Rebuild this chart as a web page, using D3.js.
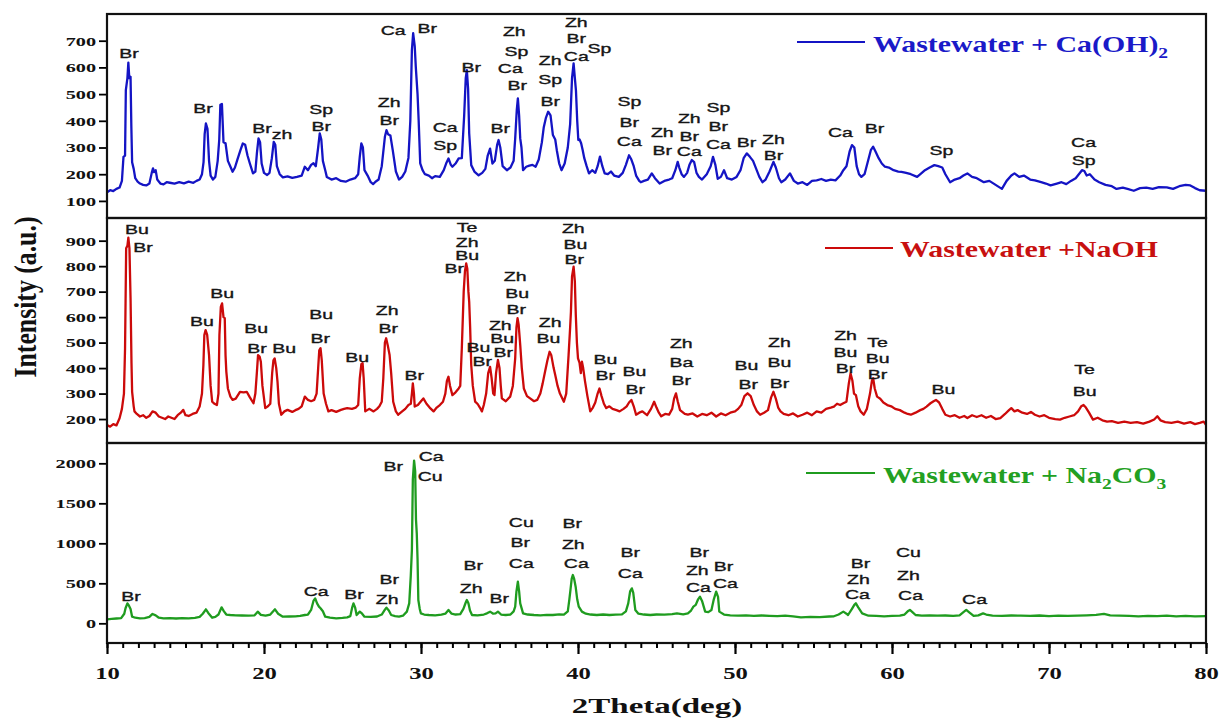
<!DOCTYPE html>
<html><head><meta charset="utf-8">
<script src="https://cdn.jsdelivr.net/npm/d3@7"></script>
<style>body{margin:0;background:#fff}svg{display:block}</style>
</head><body><svg id="c" width="1219" height="720"></svg>
<script>
// ---------------- DATA ----------------
const thetaTicks=[10,20,30,40,50,60,70,80];
const caohTicks=[100,200,300,400,500,600,700];
const naohTicks=[200,300,400,500,600,700,800,900];
const na2co3Ticks=[0,500,1000,1500,2000];
const seriesNames=["Wastewater + Ca(OH)","Wastewater +NaOH","Wastewater + Na"];

const caohPattern=[[10.0,132],[10.2,140],[10.4,137],[10.6,145],[10.8,150],[10.95,175],[11.05,265],[11.15,270],[11.2,515],[11.3,560],[11.36,618],[11.42,560],[11.5,565],[11.55,380],[11.6,245],[11.7,220],[11.8,185],[11.95,172],[12.1,165],[12.3,160],[12.5,158],[12.7,165],[12.85,205],[12.93,222],[13.0,208],[13.1,215],[13.2,180],[13.4,165],[13.6,162],[13.8,170],[14.0,168],[14.3,165],[14.6,170],[14.9,166],[15.2,172],[15.5,168],[15.7,175],[15.9,180],[16.05,200],[16.15,245],[16.22,350],[16.3,390],[16.4,370],[16.5,250],[16.6,195],[16.75,180],[16.9,190],[17.05,250],[17.15,330],[17.22,460],[17.32,463],[17.42,320],[17.55,316],[17.7,250],[17.85,230],[18.0,209],[18.15,225],[18.3,254],[18.5,290],[18.65,315],[18.8,310],[18.95,270],[19.1,240],[19.3,203],[19.45,210],[19.55,280],[19.65,334],[19.75,320],[19.85,240],[20.0,205],[20.2,197],[20.35,205],[20.5,260],[20.62,321],[20.72,310],[20.82,230],[21.0,200],[21.2,188],[21.5,192],[21.8,186],[22.1,190],[22.4,195],[22.6,228],[22.8,215],[23.0,235],[23.15,241],[23.3,230],[23.45,300],[23.55,353],[23.65,330],[23.75,250],[23.9,215],[24.0,190],[24.3,180],[24.6,185],[24.9,175],[25.2,172],[25.5,180],[25.8,185],[26.0,200],[26.1,265],[26.2,315],[26.3,300],[26.4,215],[26.6,195],[26.8,170],[26.95,163],[27.1,172],[27.3,180],[27.5,230],[27.7,340],[27.8,365],[27.9,350],[28.05,345],[28.2,290],[28.4,210],[28.6,180],[28.8,190],[29.0,210],[29.2,261],[29.32,400],[29.42,665],[29.5,728],[29.6,680],[29.67,600],[29.78,500],[29.85,403],[29.95,241],[30.1,215],[30.25,200],[30.5,195],[30.7,185],[30.9,193],[31.2,190],[31.45,215],[31.6,240],[31.75,259],[31.9,235],[32.0,228],[32.2,240],[32.4,259],[32.6,260],[32.75,420],[32.85,560],[32.92,590],[33.0,520],[33.07,353],[33.2,234],[33.4,210],[33.67,196],[33.9,205],[34.1,220],[34.25,270],[34.4,296],[34.55,240],[34.7,250],[34.85,310],[34.94,328],[35.05,300],[35.2,230],[35.47,215],[35.7,225],[35.9,250],[36.0,334],[36.1,440],[36.17,484],[36.25,420],[36.32,334],[36.4,300],[36.5,215],[36.7,228],[36.9,232],[37.1,235],[37.3,228],[37.5,255],[37.7,320],[37.82,376],[37.95,410],[38.1,434],[38.25,420],[38.4,347],[38.55,330],[38.65,290],[38.8,241],[38.95,215],[39.15,240],[39.35,300],[39.5,388],[39.62,560],[39.72,615],[39.8,560],[39.87,513],[39.95,400],[40.02,328],[40.1,330],[40.2,316],[40.3,290],[40.4,260],[40.55,230],[40.7,203],[40.9,215],[41.1,205],[41.25,230],[41.4,266],[41.55,230],[41.7,203],[41.9,200],[42.1,210],[42.3,195],[42.6,190],[42.85,205],[43.05,235],[43.25,271],[43.4,255],[43.55,230],[43.7,195],[43.9,175],[44.0,170],[44.2,175],[44.45,180],[44.7,203],[44.9,185],[45.2,165],[45.5,175],[45.8,180],[46.0,185],[46.2,215],[46.35,246],[46.45,225],[46.6,200],[46.75,190],[46.95,205],[47.1,235],[47.25,253],[47.4,245],[47.55,205],[47.7,190],[47.9,180],[48.2,200],[48.45,230],[48.6,265],[48.75,235],[48.9,183],[49.1,190],[49.3,215],[49.5,185],[49.8,180],[50.1,190],[50.35,215],[50.55,260],[50.75,278],[50.95,265],[51.15,250],[51.35,220],[51.55,190],[51.75,170],[51.95,180],[52.2,210],[52.45,246],[52.6,225],[52.8,185],[52.95,170],[53.2,180],[53.5,203],[53.75,175],[54.0,165],[54.3,170],[54.6,160],[54.9,175],[55.2,177],[55.5,182],[55.8,175],[56.1,180],[56.4,177],[56.7,195],[56.9,215],[57.1,230],[57.3,285],[57.45,309],[57.6,300],[57.75,230],[57.9,200],[58.05,190],[58.25,200],[58.45,245],[58.65,290],[58.8,303],[58.95,285],[59.15,260],[59.35,240],[59.55,228],[59.8,225],[60.1,215],[60.4,210],[60.6,209],[60.9,205],[61.2,200],[61.6,190],[61.9,205],[62.1,215],[62.4,225],[62.7,234],[62.95,230],[63.2,225],[63.4,200],[63.7,170],[64.0,180],[64.3,185],[64.55,195],[64.8,203],[65.1,190],[65.4,185],[65.85,170],[66.2,175],[66.6,160],[67.0,145],[67.3,175],[67.6,195],[67.8,203],[68.1,190],[68.4,195],[68.8,180],[69.1,177],[69.5,170],[69.8,165],[70.1,158],[70.5,165],[70.8,170],[71.1,163],[71.4,175],[71.7,185],[71.9,200],[72.1,215],[72.25,212],[72.4,195],[72.6,200],[72.9,180],[73.2,170],[73.6,160],[74.0,155],[74.3,145],[74.7,150],[75.0,145],[75.4,138],[75.8,148],[76.2,150],[76.6,145],[77.0,152],[77.5,151],[77.9,145],[78.3,155],[78.7,160],[79.0,158],[79.3,148],[79.6,140],[80.0,138]];

const naohPattern=[[10.0,177],[10.2,170],[10.4,180],[10.6,175],[10.8,203],[10.95,240],[11.08,300],[11.15,478],[11.22,870],[11.3,880],[11.36,912],[11.43,870],[11.5,674],[11.56,420],[11.6,307],[11.7,250],[11.75,230],[11.9,220],[12.1,210],[12.3,215],[12.5,205],[12.7,212],[12.9,230],[13.1,225],[13.3,210],[13.5,205],[13.7,200],[13.9,210],[14.1,205],[14.3,200],[14.5,215],[14.7,225],[14.86,236],[15.0,215],[15.2,212],[15.45,220],[15.7,225],[15.9,249],[16.05,300],[16.14,412],[16.2,530],[16.28,549],[16.38,530],[16.5,451],[16.6,330],[16.7,268],[16.85,260],[17.0,255],[17.1,300],[17.16,530],[17.25,640],[17.33,654],[17.42,600],[17.5,596],[17.55,450],[17.6,386],[17.7,320],[17.86,288],[18.0,275],[18.2,280],[18.47,307],[18.7,305],[18.9,307],[19.1,285],[19.33,262],[19.45,300],[19.55,386],[19.62,451],[19.72,445],[19.8,425],[19.9,330],[20.08,243],[20.25,250],[20.4,260],[20.52,380],[20.6,430],[20.68,438],[20.78,400],[20.86,347],[20.95,260],[21.1,217],[21.3,230],[21.5,236],[21.8,228],[22.0,235],[22.2,240],[22.4,250],[22.6,288],[22.8,275],[23.0,270],[23.2,275],[23.35,300],[23.45,400],[23.52,470],[23.6,478],[23.68,430],[23.8,300],[23.95,260],[24.1,230],[24.3,235],[24.6,228],[24.9,236],[25.1,240],[25.3,243],[25.6,240],[25.85,245],[26.0,255],[26.1,360],[26.2,415],[26.28,419],[26.35,360],[26.45,230],[26.7,240],[26.98,230],[27.2,240],[27.35,250],[27.5,268],[27.6,360],[27.7,500],[27.78,517],[27.88,490],[28.0,451],[28.1,380],[28.23,268],[28.4,230],[28.55,217],[28.8,230],[29.0,240],[29.2,255],[29.35,260],[29.42,300],[29.48,340],[29.55,300],[29.6,249],[29.8,255],[30.0,270],[30.15,281],[30.35,260],[30.55,245],[30.8,230],[31.0,245],[31.2,255],[31.4,268],[31.55,300],[31.65,350],[31.75,366],[31.85,330],[32.0,294],[32.2,305],[32.4,320],[32.5,330],[32.6,478],[32.72,700],[32.8,780],[32.88,811],[32.95,790],[33.02,700],[33.07,660],[33.13,560],[33.2,412],[33.3,330],[33.45,268],[33.6,260],[33.75,245],[33.88,230],[34.0,255],[34.15,300],[34.28,380],[34.4,405],[34.5,360],[34.6,300],[34.68,294],[34.78,380],[34.9,432],[35.0,400],[35.08,330],[35.15,281],[35.4,270],[35.68,288],[35.85,330],[36.0,438],[36.08,560],[36.15,596],[36.22,570],[36.32,491],[36.42,400],[36.55,320],[36.75,290],[36.95,281],[37.2,270],[37.4,275],[37.6,300],[37.75,340],[37.9,386],[38.05,430],[38.19,464],[38.3,450],[38.45,400],[38.55,373],[38.7,330],[38.85,300],[39.1,268],[39.25,300],[39.4,451],[39.5,560],[39.55,621],[39.62,760],[39.72,798],[39.8,740],[39.86,608],[39.93,500],[40.0,438],[40.1,420],[40.18,380],[40.25,425],[40.33,400],[40.45,347],[40.6,290],[40.78,230],[40.95,245],[41.1,265],[41.25,300],[41.37,320],[41.5,290],[41.65,260],[41.8,243],[42.0,250],[42.2,240],[42.45,235],[42.65,230],[42.9,240],[43.1,250],[43.25,265],[43.4,275],[43.55,250],[43.7,217],[43.9,225],[44.1,230],[44.4,215],[44.65,240],[44.85,268],[45.0,245],[45.15,225],[45.3,211],[45.55,220],[45.8,217],[46.0,240],[46.12,280],[46.24,301],[46.35,270],[46.5,235],[46.6,230],[46.8,220],[47.0,217],[47.3,222],[47.6,210],[47.9,220],[48.2,215],[48.5,225],[48.8,210],[49.1,222],[49.4,215],[49.7,225],[50.0,230],[50.2,240],[50.4,255],[50.6,290],[50.8,301],[51.0,290],[51.2,255],[51.4,230],[51.6,217],[51.85,225],[52.1,235],[52.3,285],[52.45,307],[52.6,280],[52.75,245],[52.9,230],[53.1,220],[53.4,215],[53.7,222],[54.0,210],[54.3,217],[54.6,225],[54.9,215],[55.2,230],[55.5,225],[55.8,240],[56.1,245],[56.3,249],[56.5,260],[56.7,255],[56.9,262],[57.1,268],[57.25,340],[57.36,379],[57.48,350],[57.58,300],[57.7,294],[57.85,250],[58.0,230],[58.2,217],[58.4,240],[58.6,300],[58.72,350],[58.8,360],[58.9,320],[59.05,288],[59.25,280],[59.45,265],[59.7,255],[59.95,250],[60.2,240],[60.5,235],[60.8,225],[61.0,220],[61.2,217],[61.5,225],[61.8,235],[62.0,240],[62.2,249],[62.45,262],[62.65,270],[62.8,275],[63.0,265],[63.2,240],[63.4,217],[63.7,210],[64.0,215],[64.3,205],[64.6,212],[64.8,204],[65.1,215],[65.4,208],[65.7,215],[66.0,205],[66.3,212],[66.6,200],[66.9,204],[67.2,220],[67.45,235],[67.6,243],[67.8,230],[68.0,235],[68.3,225],[68.6,220],[68.85,228],[69.1,217],[69.4,210],[69.7,215],[70.0,205],[70.4,200],[70.7,198],[71.0,205],[71.3,210],[71.6,215],[71.85,230],[72.05,250],[72.2,255],[72.35,245],[72.55,225],[72.8,198],[73.1,205],[73.4,195],[73.7,190],[74.0,192],[74.4,185],[74.8,190],[75.2,185],[75.6,188],[76.0,182],[76.4,190],[76.7,198],[76.9,211],[77.1,195],[77.4,188],[77.8,185],[78.2,190],[78.6,182],[79.0,188],[79.3,180],[79.6,185],[79.85,190],[80.0,177]];

const na2co3Pattern=[[10.0,50],[10.3,55],[10.6,60],[10.9,65],[11.1,120],[11.18,188],[11.3,250],[11.4,220],[11.5,180],[11.6,83],[11.8,70],[12.1,62],[12.4,65],[12.7,80],[12.9,117],[13.1,100],[13.3,70],[13.6,62],[14.0,65],[14.4,60],[14.8,66],[15.2,62],[15.6,68],[15.9,80],[16.1,120],[16.3,175],[16.45,130],[16.7,70],[16.9,80],[17.1,110],[17.3,200],[17.45,150],[17.6,110],[17.85,104],[18.2,100],[18.6,98],[19.0,95],[19.4,100],[19.6,146],[19.8,105],[20.1,95],[20.4,110],[20.7,175],[20.9,120],[21.2,83],[21.6,85],[22.0,88],[22.3,92],[22.6,104],[22.8,110],[23.0,167],[23.15,280],[23.26,312],[23.38,250],[23.5,208],[23.6,188],[23.75,150],[23.9,83],[24.2,70],[24.6,62],[25.0,68],[25.3,75],[25.5,90],[25.62,200],[25.7,250],[25.8,200],[25.9,104],[26.1,146],[26.25,120],[26.4,83],[26.8,80],[27.2,85],[27.5,110],[27.7,170],[27.8,196],[27.95,160],[28.1,104],[28.35,90],[28.6,83],[28.85,95],[29.1,146],[29.25,250],[29.35,600],[29.42,917],[29.48,1800],[29.56,2033],[29.63,1900],[29.68,1300],[29.73,1125],[29.78,800],[29.83,292],[29.92,180],[29.99,125],[30.2,110],[30.5,104],[30.9,100],[31.3,108],[31.55,120],[31.75,167],[31.95,120],[32.2,110],[32.5,115],[32.7,180],[32.85,260],[32.92,292],[33.02,250],[33.12,160],[33.25,104],[33.6,100],[34.0,110],[34.2,125],[34.4,146],[34.6,120],[34.75,125],[34.9,146],[35.1,110],[35.4,104],[35.7,110],[35.9,150],[36.0,208],[36.08,400],[36.17,521],[36.25,400],[36.32,250],[36.42,180],[36.5,125],[36.8,110],[37.2,104],[37.6,100],[38.0,106],[38.4,104],[38.8,112],[39.1,108],[39.35,150],[39.45,300],[39.52,417],[39.6,560],[39.67,604],[39.75,560],[39.85,458],[39.95,300],[40.05,208],[40.25,146],[40.5,120],[40.8,110],[41.2,104],[41.6,110],[42.0,104],[42.4,108],[42.8,112],[43.05,150],[43.2,250],[43.32,400],[43.43,437],[43.52,380],[43.65,167],[43.85,120],[44.2,110],[44.6,104],[45.0,110],[45.5,108],[46.0,115],[46.3,125],[46.7,112],[47.0,125],[47.2,160],[47.35,208],[47.5,230],[47.65,300],[47.77,333],[47.9,280],[48.1,146],[48.3,140],[48.5,167],[48.65,300],[48.8,396],[48.92,330],[49.0,146],[49.3,110],[49.7,100],[50.2,96],[50.7,100],[51.2,92],[51.7,98],[52.2,94],[52.7,90],[53.2,96],[53.7,88],[54.2,75],[54.8,80],[55.4,78],[56.0,85],[56.3,88],[56.6,110],[56.9,146],[57.1,120],[57.2,104],[57.45,180],[57.6,230],[57.7,250],[57.85,200],[58.1,125],[58.5,95],[59.0,92],[59.5,88],[60.0,92],[60.5,95],[60.8,110],[61.0,150],[61.14,167],[61.3,140],[61.5,104],[61.9,95],[62.4,100],[62.9,96],[63.4,98],[63.9,92],[64.3,100],[64.55,140],[64.73,167],[64.9,140],[65.2,92],[65.5,100],[65.8,125],[66.0,110],[66.4,95],[67.0,92],[67.6,98],[68.2,95],[68.8,92],[69.4,98],[70.0,90],[70.6,95],[71.2,92],[71.8,96],[72.4,100],[73.0,105],[73.5,117],[73.9,100],[74.5,95],[75.1,92],[75.7,88],[76.3,92],[76.9,90],[77.5,95],[78.1,88],[78.7,92],[79.3,88],[80.0,90]];

// phase labels: [2theta, intensity at text baseline, text]
const caohLabels=[[11.40,635,"Br"],[16.12,429,"Br"],[19.88,354,"Br"],[21.15,331,"zh"],[23.64,425,"Sp"],[23.64,361,"Br"],[27.97,451,"Zh"],[27.97,384,"Br"],[28.23,721,"Ca"],[30.40,729,"Br"],[31.54,358,"Ca"],[31.54,290,"Sp"],[33.20,583,"Br"],[35.05,354,"Br"],[35.94,718,"Zh"],[36.07,643,"Sp"],[35.69,579,"Ca"],[36.13,515,"Br"],[38.23,609,"Zh"],[38.23,538,"Sp"],[38.23,455,"Br"],[39.89,750,"Zh"],[39.89,691,"Br"],[39.89,624,"Ca"],[41.36,654,"Sp"],[43.27,455,"Sp"],[43.27,376,"Br"],[43.27,305,"Ca"],[45.37,339,"Zh"],[45.37,271,"Br"],[47.09,391,"Zh"],[47.09,325,"Br"],[47.09,268,"Ca"],[48.94,433,"Sp"],[48.94,361,"Br"],[48.94,294,"Ca"],[50.73,301,"Br"],[52.45,313,"Zh"],[52.45,253,"Br"],[56.72,339,"Ca"],[58.88,354,"Br"],[63.15,271,"Sp"],[72.2,301,"Ca"],[72.2,234,"Sp"]];
const naohLabels=[[11.91,926,"Bu"],[12.29,856,"Br"],[16.05,565,"Bu"],[17.33,675,"Bu"],[19.5,538,"Bu"],[19.56,459,"Br"],[21.28,459,"Bu"],[23.64,593,"Bu"],[23.58,498,"Br"],[25.93,424,"Bu"],[27.85,608,"Zh"],[27.91,538,"Br"],[29.57,353,"Br"],[32.94,934,"Te"],[32.94,877,"Zh"],[32.94,824,"Bu"],[32.12,775,"Br"],[33.65,463,"Bu"],[33.9,408,"Br"],[35.05,551,"Zh"],[35.17,498,"Bu"],[35.24,445,"Br"],[36.0,742,"Zh"],[36.13,675,"Bu"],[36.07,612,"Br"],[38.23,561,"Zh"],[38.11,498,"Bu"],[39.7,930,"Zh"],[39.83,867,"Bu"],[39.76,810,"Br"],[41.74,416,"Bu"],[41.74,353,"Br"],[43.59,369,"Bu"],[43.65,298,"Br"],[46.58,479,"Zh"],[46.58,404,"Ba"],[46.58,334,"Br"],[50.73,393,"Bu"],[50.85,318,"Br"],[52.83,483,"Zh"],[52.83,404,"Bu"],[52.83,322,"Br"],[57.04,512,"Zh"],[57.04,444,"Bu"],[57.04,379,"Br"],[59.08,481,"Te"],[59.08,418,"Bu"],[59.08,359,"Br"],[63.28,298,"Bu"],[72.27,377,"Te"],[72.27,290,"Bu"]];
const na2co3Labels=[[11.53,279,"Br"],[23.32,341,"Ca"],[25.74,304,"Br"],[27.97,491,"Br"],[27.85,241,"Zh"],[28.23,1904,"Br"],[30.65,2029,"Ca"],[30.59,1779,"Cu"],[33.33,666,"Br"],[33.2,379,"Zh"],[34.98,254,"Br"],[36.39,1204,"Cu"],[36.32,954,"Br"],[36.39,691,"Ca"],[39.64,1191,"Br"],[39.70,929,"Zh"],[39.89,691,"Ca"],[43.33,829,"Br"],[43.33,566,"Ca"],[47.73,829,"Br"],[47.6,610,"Zh"],[47.67,391,"Ca"],[49.26,654,"Br"],[49.39,441,"Ca"],[57.99,690,"Br"],[57.86,490,"Zh"],[57.8,300,"Ca"],[61.05,829,"Cu"],[61.05,541,"Zh"],[61.18,291,"Ca"],[65.26,241,"Ca"]];

// ---------------- DRAW ----------------
const svg=d3.select('#c');
const SERIF='"Liberation Serif","Times New Roman",serif';
const SANS='"Liberation Sans",Arial,sans-serif';
const L=107,R=1206;
const x=d3.scaleLinear().domain([10,80]).range([L,R]);

const panels=[
 {top:14,bottom:218,domain:[36,800],ticks:caohTicks,data:caohPattern,labels:caohLabels,color:'#1414c4',tcolor:'#1a1ac8',
  leg:{x1:797,x2:865,y:42,tx:873,ty:52},name:seriesNames[0],sub:[["2",""]]},
 {top:218,bottom:443,domain:[106,989],ticks:naohTicks,data:naohPattern,labels:naohLabels,color:'#cc0a0a',tcolor:'#c81010',
  leg:{x1:825,x2:893,y:248,tx:900,ty:257},name:seriesNames[1],sub:[]},
 {top:443,bottom:643,domain:[-246,2254],ticks:na2co3Ticks,data:na2co3Pattern,labels:na2co3Labels,color:'#1f9c1f',tcolor:'#22a022',
  leg:{x1:806,x2:875,y:473,tx:883,ty:483},name:seriesNames[2],sub:[["2","CO"],["3",""]]}
];

const defs=svg.append('defs');
panels.forEach((p,i)=>{
  const y=d3.scaleLinear().domain(p.domain).range([p.bottom,p.top]);
  defs.append('clipPath').attr('id','clip'+i).append('rect').attr('x',L).attr('y',p.top).attr('width',R-L).attr('height',p.bottom-p.top);
  const g=svg.append('g');
  const line=d3.line().x(d=>x(d[0])).y(d=>y(d[1]));
  g.append('path').datum(p.data).attr('d',line).attr('fill','none').attr('stroke',p.color)
   .attr('stroke-width',2.3).attr('stroke-linejoin','round').attr('clip-path','url(#clip'+i+')');
  const ya=g.append('g').attr('transform',`translate(${L},0)`)
    .call(d3.axisLeft(y).tickValues(p.ticks).tickSize(8).tickPadding(3).tickFormat(d3.format('d')));
  ya.select('.domain').remove();
  ya.selectAll('line').attr('stroke','#000').attr('stroke-width',1.8);
  ya.selectAll('text').attr('font-family',SERIF).attr('font-weight','bold').attr('font-size',13.5).attr('fill','#111')
    .attr('x',-11/1.5).attr('transform','scale(1.5,1)');
  g.selectAll('text.lab').data(p.labels).enter().append('text').attr('class','lab')
    .attr('transform',d=>`translate(${x(d[0])},${y(d[1])}) scale(1.5,1)`)
    .attr('text-anchor','middle').attr('font-family',SANS).attr('font-size',13).attr('fill','#151515')
    .attr('stroke','#151515').attr('stroke-width',0.35)
    .text(d=>d[2]);
  g.append('line').attr('x1',p.leg.x1).attr('x2',p.leg.x2).attr('y1',p.leg.y).attr('y2',p.leg.y)
    .attr('stroke',p.color).attr('stroke-width',2.2);
  const t=g.append('text').attr('transform',`translate(${p.leg.tx},${p.leg.ty}) scale(1.3,1)`)
    .attr('font-family',SERIF).attr('font-weight','bold').attr('font-size',23).attr('fill',p.tcolor);
  t.append('tspan').text(p.name);
  p.sub.forEach(s=>{
    t.append('tspan').attr('font-size',15).attr('dy',6).text(s[0]);
    t.append('tspan').attr('dy',-6).text(s[1]);
  });
  g.append('rect').attr('x',L).attr('y',p.top).attr('width',R-L).attr('height',p.bottom-p.top)
    .attr('fill','none').attr('stroke','#111').attr('stroke-width',2.2);
});

// x axis
const xb=svg.append('g').attr('transform',`translate(0,643)`);
xb.call(d3.axisBottom(x).tickValues(d3.range(10,81,1)).tickSize(5).tickFormat(''));
xb.select('.domain').remove();
xb.selectAll('line').attr('stroke','#000').attr('stroke-width',2);
const xa=svg.append('g').attr('transform',`translate(0,643)`);
xa.call(d3.axisBottom(x).tickValues(thetaTicks).tickSize(11).tickPadding(13).tickFormat(d3.format('d')));
xa.select('.domain').remove();
xa.selectAll('line').attr('stroke','#000').attr('stroke-width',2.2);
xa.selectAll('text').attr('font-family',SERIF).attr('font-weight','bold').attr('font-size',17).attr('fill','#111')
  .attr('transform','scale(1.45,1)');

// axis titles
svg.append('text').attr('transform','translate(657,713) scale(1.5,1)').attr('text-anchor','middle')
  .attr('font-family',SERIF).attr('font-weight','bold').attr('font-size',22).attr('fill','#111').text('2Theta(deg)');
svg.append('text').attr('transform','translate(36,297) rotate(-90) scale(1.12,1.4)').attr('text-anchor','middle')
  .attr('font-family',SERIF).attr('font-weight','bold').attr('font-size',23).attr('fill','#111').text('Intensity (a.u.)');
</script></body></html>
